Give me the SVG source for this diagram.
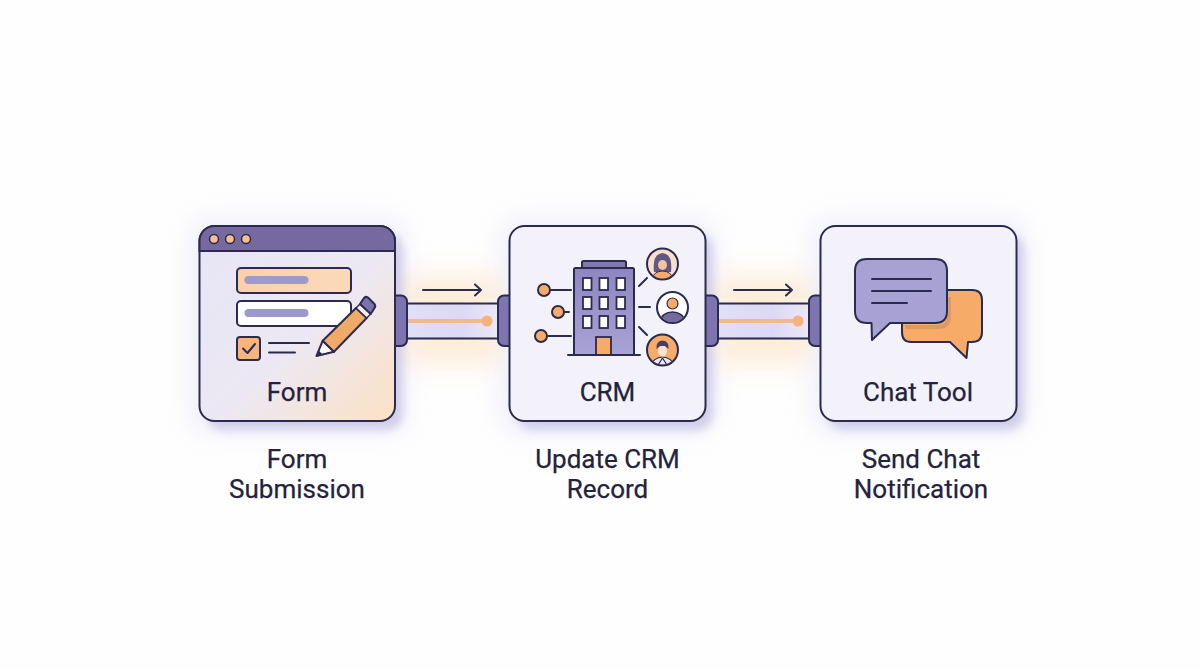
<svg xmlns="http://www.w3.org/2000/svg" width="1200" height="669" viewBox="0 0 1200 669">
<style>
.card{fill:#f3f2fb;stroke:#2b2a4f;stroke-width:2}
.shadow{fill:#b4afd9;opacity:.55;filter:url(#b6)}
.halo{fill:#cfcbf0;opacity:.3;filter:url(#b14)}
.t{font-family:Roboto,"Liberation Sans",sans-serif;font-size:26px;font-weight:400;fill:#25233c;stroke:#25233c;stroke-width:.25;text-anchor:middle}
.port{fill:#7d74b0;stroke:#2b2a4f;stroke-width:2}
.tube{fill:url(#tb);stroke:#2b2a4f;stroke-width:2}
.o{fill:#f6ab68}
.ln{fill:none;stroke:#2b2a4f;stroke-width:2;stroke-linecap:round;stroke-linejoin:round}
.glow{fill:#fbdcb6;opacity:.5;filter:url(#b14)}
.flow{stroke:#f3b98c;stroke-width:4;fill:none}
</style>
<defs>
<filter id="b6" x="-30%" y="-30%" width="160%" height="160%"><feGaussianBlur stdDeviation="5"/></filter>
<filter id="b14" x="-40%" y="-40%" width="180%" height="180%"><feGaussianBlur stdDeviation="13"/></filter>
<linearGradient id="formbg" x1="0" y1="0" x2="1" y2="1"><stop offset="0" stop-color="#e7e5f6"/><stop offset=".55" stop-color="#ece8f3"/><stop offset="1" stop-color="#fde1c4"/></linearGradient>
<linearGradient id="fld" x1="0" y1="0" x2="1" y2="0"><stop offset="0" stop-color="#fbd0a6"/><stop offset="1" stop-color="#fbdabb"/></linearGradient>
<linearGradient id="tb" x1="0" y1="0" x2="1" y2="0"><stop offset="0" stop-color="#e2dff8"/><stop offset=".6" stop-color="#dcd9f7"/><stop offset="1" stop-color="#eeeaf6"/></linearGradient>
<linearGradient id="bld" x1="0" y1="0" x2="0" y2="1"><stop offset="0" stop-color="#8d86c0"/><stop offset="1" stop-color="#a9a3d6"/></linearGradient>
<clipPath id="a1"><circle cx="662.500" cy="264" r="14.500"/></clipPath>
<clipPath id="a2"><circle cx="672.500" cy="307.500" r="14.500"/></clipPath>
<clipPath id="a3"><circle cx="662.500" cy="350" r="14.500"/></clipPath>
</defs>
<rect width="1200" height="669" fill="#fefefe"/>
<rect class="halo" x="190" y="218" width="215" height="215" rx="20"/>
<rect class="halo" x="500" y="218" width="215" height="215" rx="20"/>
<rect class="halo" x="811" y="218" width="215" height="215" rx="20"/>
<rect class="glow" x="405" y="275" width="95" height="90"/>
<rect class="glow" x="716" y="275" width="95" height="90"/>
<rect class="shadow" x="207" y="234" width="196" height="196" rx="16"/>
<rect class="shadow" x="517" y="234" width="196" height="196" rx="16"/>
<rect class="shadow" x="828" y="234" width="196" height="196" rx="16"/>

<g id="connectors">
<g id="conn1">
<rect class="tube" x="400" y="303.500" width="104" height="35"/>
<path class="flow" d="M407 321H487"/><circle cx="487" cy="321" r="5.500" fill="#f6b27a"/>
<rect class="port" x="388" y="295.500" width="19" height="50.500" rx="6"/>
<rect class="port" x="498" y="295.500" width="19" height="50.500" rx="6"/>
<path class="ln" d="M423 290H481M475 284.500L481 290L475 295.500"/>
</g>
<g id="conn2">
<rect class="tube" x="711" y="303.500" width="104" height="35"/>
<path class="flow" d="M718 321H798"/><circle cx="798" cy="321" r="5.500" fill="#f6b27a"/>
<rect class="port" x="699" y="295.500" width="19" height="50.500" rx="6"/>
<rect class="port" x="809" y="295.500" width="19" height="50.500" rx="6"/>
<path class="ln" d="M734 290H792M786 284.500L792 290L786 295.500"/>
</g>
</g>

<g id="node-form">
<rect x="199.500" y="226" width="195.500" height="195" rx="15" fill="url(#formbg)" stroke="#2b2a4f" stroke-width="2"/>
<path d="M199.500 251V241a15 15 0 0 1 15-15H380a15 15 0 0 1 15 15V251Z" fill="#75699f" stroke="#2b2a4f" stroke-width="2"/>
<circle cx="214" cy="239" r="4.500" fill="#f5c08e" stroke="#2b2a4f" stroke-width="1.500"/>
<circle cx="230" cy="239" r="4.500" fill="#f5c08e" stroke="#2b2a4f" stroke-width="1.500"/>
<circle cx="246" cy="239" r="4.500" fill="#f5c08e" stroke="#2b2a4f" stroke-width="1.500"/>
<rect x="237" y="268" width="114" height="25" rx="4" fill="url(#fld)" stroke="#2b2a4f" stroke-width="2"/>
<rect x="244.500" y="276" width="64" height="8" rx="4" fill="#9d99cc"/>
<rect x="237" y="301" width="114" height="25" rx="4" fill="#fff" stroke="#2b2a4f" stroke-width="2"/>
<rect x="244.500" y="309" width="64" height="8" rx="4" fill="#9d99cc"/>
<rect x="237" y="337" width="23" height="23" rx="3" fill="#f5b67e" stroke="#2b2a4f" stroke-width="2"/>
<path class="ln" d="M243 348.500L247.500 353L255 344"/>
<path class="ln" d="M269 343H309M269 352.500H295"/>
<g id="pencil">
<path d="M316.500 356L322.700 340.700L334 351.700Z" fill="#fff" stroke="#2b2a4f" stroke-width="2" stroke-linejoin="round"/>
<path d="M316.500 356L318.600 350.500L322.500 354.300Z" fill="#2b2a4f"/>
<path d="M322.700 340.700L356 308L366.700 318L334 351.700Z" fill="#f0aa68" stroke="#2b2a4f" stroke-width="2" stroke-linejoin="round"/>
<path d="M356 308L360 304L370.700 314L366.700 318Z" fill="#f6f0ea" stroke="#2b2a4f" stroke-width="1.500" stroke-linejoin="round"/>
<path d="M360 304L364 298Q365.500 296 368 297.500L374.500 304Q376 306 374.500 308L370.700 314Z" fill="#7b72ae" stroke="#2b2a4f" stroke-width="2" stroke-linejoin="round"/>
</g>
<text class="t" x="297" y="401">Form</text>
</g>

<g id="node-crm">
<rect class="card" x="509.500" y="226" width="196" height="195" rx="15"/>
<rect x="582" y="261" width="44" height="8" rx="1.500" fill="#8279b3" stroke="#2b2a4f" stroke-width="2"/>
<rect x="574" y="268" width="60" height="87" rx="1.500" fill="url(#bld)" stroke="#2b2a4f" stroke-width="2"/>
<g fill="#fff" stroke="#2b2a4f" stroke-width="1.800">
<rect x="583" y="278" width="8.500" height="12"/><rect x="599.500" y="278" width="8.500" height="12"/><rect x="616.500" y="278" width="8.500" height="12"/>
<rect x="583" y="297" width="8.500" height="12"/><rect x="599.500" y="297" width="8.500" height="12"/><rect x="616.500" y="297" width="8.500" height="12"/>
<rect x="583" y="316" width="8.500" height="12"/><rect x="599.500" y="316" width="8.500" height="12"/><rect x="616.500" y="316" width="8.500" height="12"/>
</g>
<rect x="596" y="337" width="15" height="18" fill="#f6ab68" stroke="#2b2a4f" stroke-width="1.800"/>
<path class="ln" d="M568 355H640M550 290H571M564 312H569M547 336H571M639 286L647 278M639 307H650M639 327L647 335"/>
<circle cx="544" cy="290" r="6" class="o" stroke="#2b2a4f" stroke-width="2"/>
<circle cx="558" cy="312" r="6" class="o" stroke="#2b2a4f" stroke-width="2"/>
<circle cx="541" cy="336" r="6" class="o" stroke="#2b2a4f" stroke-width="2"/>
<g id="avatar-1">
<circle cx="662.500" cy="264" r="15.500" fill="#f7dfcb"/>
<g clip-path="url(#a1)"><path d="M654 272Q652 254 662.500 253Q673 254 671 272Z" fill="#625888"/><ellipse cx="662.500" cy="278.500" rx="10" ry="7.500" fill="#f6ab68" stroke="#2b2a4f" stroke-width="1"/><ellipse cx="662.500" cy="265" rx="4.500" ry="5" fill="#f6c49a"/></g>
<circle cx="662.500" cy="264" r="15.500" fill="none" stroke="#2b2a4f" stroke-width="2"/>
</g>
<g id="avatar-2">
<circle cx="672.500" cy="307.500" r="15.500" fill="#fff"/>
<g clip-path="url(#a2)"><ellipse cx="672.500" cy="321" rx="12" ry="9" fill="#75699f" stroke="#2b2a4f" stroke-width="1.500"/><circle cx="672.500" cy="303.500" r="5.500" fill="#f6ab68" stroke="#2b2a4f" stroke-width="1.200"/></g>
<circle cx="672.500" cy="307.500" r="15.500" fill="none" stroke="#2b2a4f" stroke-width="2"/>
</g>
<g id="avatar-3">
<circle cx="662.500" cy="350" r="15.500" fill="#f6ab68"/>
<g clip-path="url(#a3)"><ellipse cx="662.500" cy="366" rx="11" ry="9" fill="#e9e8f8" stroke="#2b2a4f" stroke-width="1.200"/><path d="M662.500 358L658 365M662.500 358L667 365" stroke="#2b2a4f" stroke-width="1.200" fill="none"/><ellipse cx="662.500" cy="351" rx="4.500" ry="5.500" fill="#f7e4d6"/><path d="M656.500 349Q655.500 341 662.500 340.500Q669.500 341 668.500 349L665 346H660Z" fill="#4a3f60"/></g>
<circle cx="662.500" cy="350" r="15.500" fill="none" stroke="#2b2a4f" stroke-width="2"/>
</g>
<text class="t" x="607.500" y="401">CRM</text>
</g>

<g id="node-chat">
<rect class="card" x="820.500" y="226" width="196" height="195" rx="15"/>
<path d="M912 290H972Q982 290 982 300V332Q982 342 972 342H968L966.500 358L950 342H911Q902 342 902 332V300Z" fill="#f6ab68" stroke="#2b2a4f" stroke-width="2" stroke-linejoin="round"/>
<path d="M947 297H951V316Q951 329 938 329H905V325H937Q947 325 947 315Z" fill="#c98a55" opacity=".55"/>
<path d="M867 259H935Q947 259 947 271V311Q947 323 935 323H890L872 340L871.500 323H867Q855 323 855 311V271Q855 259 867 259Z" fill="#a7a2d3" stroke="#2b2a4f" stroke-width="2" stroke-linejoin="round"/>
<path class="ln" d="M872 279H931M872 291H931M872 303H907"/>
<text class="t" x="918" y="401">Chat Tool</text>
</g>

<g id="labels">
<text class="t" x="297" y="468">Form</text>
<text class="t" x="297" y="497.500">Submission</text>
<text class="t" x="607.500" y="468">Update CRM</text>
<text class="t" x="607.500" y="497.500">Record</text>
<text class="t" x="921" y="468">Send Chat</text>
<text class="t" x="921" y="497.500">Notification</text>
</g>
</svg>
